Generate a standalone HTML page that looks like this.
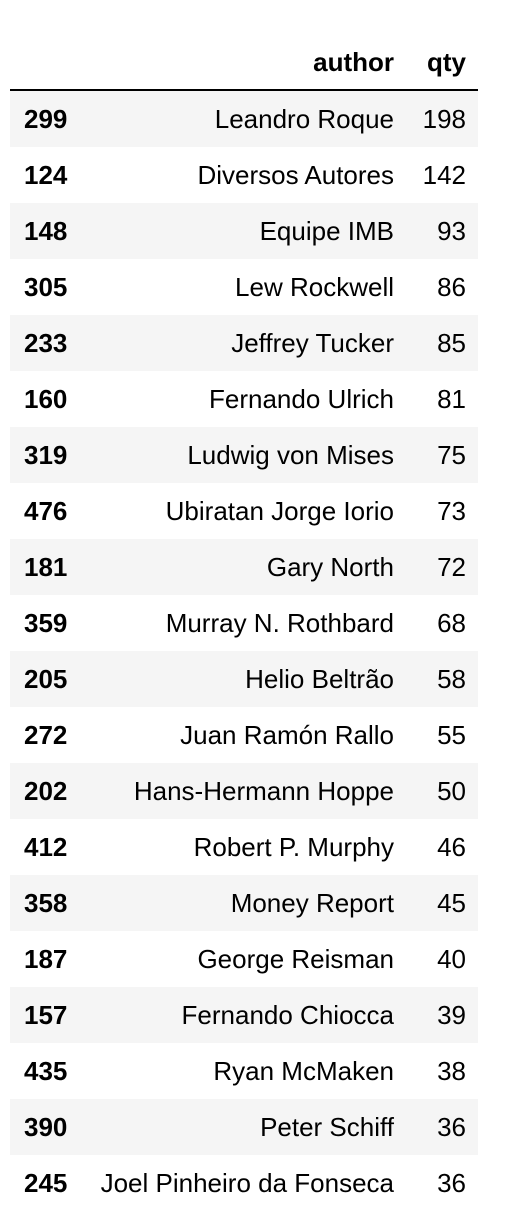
<!DOCTYPE html>
<html><head><meta charset="utf-8"><style>
body{margin:0;background:#fff;width:512px;height:1214px;overflow:hidden;font-family:"Liberation Sans",Arial,sans-serif;color:#000}
table{position:absolute;left:10px;top:35px;border-collapse:collapse;font-size:26px;table-layout:fixed;width:468px}
th,td{padding:0 12px;height:56px;text-align:right;white-space:nowrap;overflow:visible}
thead th{height:54px;border-bottom:2px solid #000;font-weight:bold;vertical-align:middle;padding-top:0;padding-bottom:0}
tbody tr:nth-child(odd){background:#f5f5f5}
tbody th{text-align:left;font-weight:bold;padding-left:14px}
col.i{width:74px}col.a{width:322px}col.q{width:72px}
</style></head><body>
<table>
<colgroup><col class="i"><col class="a"><col class="q"></colgroup>
<thead><tr><th></th><th>author</th><th>qty</th></tr></thead>
<tbody>
<tr><th>299</th><td>Leandro Roque</td><td>198</td></tr>
<tr><th>124</th><td>Diversos Autores</td><td>142</td></tr>
<tr><th>148</th><td>Equipe IMB</td><td>93</td></tr>
<tr><th>305</th><td>Lew Rockwell</td><td>86</td></tr>
<tr><th>233</th><td>Jeffrey Tucker</td><td>85</td></tr>
<tr><th>160</th><td>Fernando Ulrich</td><td>81</td></tr>
<tr><th>319</th><td>Ludwig von Mises</td><td>75</td></tr>
<tr><th>476</th><td>Ubiratan Jorge Iorio</td><td>73</td></tr>
<tr><th>181</th><td>Gary North</td><td>72</td></tr>
<tr><th>359</th><td>Murray N. Rothbard</td><td>68</td></tr>
<tr><th>205</th><td>Helio Beltrão</td><td>58</td></tr>
<tr><th>272</th><td>Juan Ramón Rallo</td><td>55</td></tr>
<tr><th>202</th><td>Hans-Hermann Hoppe</td><td>50</td></tr>
<tr><th>412</th><td>Robert P. Murphy</td><td>46</td></tr>
<tr><th>358</th><td>Money Report</td><td>45</td></tr>
<tr><th>187</th><td>George Reisman</td><td>40</td></tr>
<tr><th>157</th><td>Fernando Chiocca</td><td>39</td></tr>
<tr><th>435</th><td>Ryan McMaken</td><td>38</td></tr>
<tr><th>390</th><td>Peter Schiff</td><td>36</td></tr>
<tr><th>245</th><td>Joel Pinheiro da Fonseca</td><td>36</td></tr>
</tbody></table>
</body></html>
